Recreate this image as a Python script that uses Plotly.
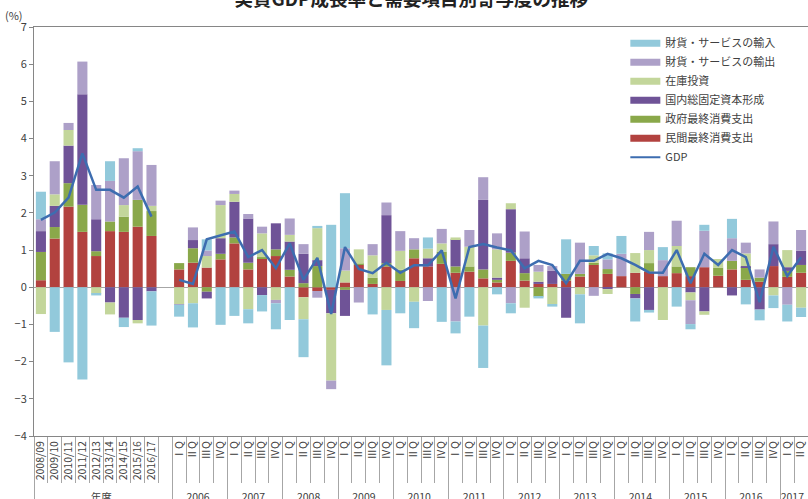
import plotly.graph_objects as go

# Category axis: fiscal years, a spacer, then quarters 2006 Q1 - 2017 Q2
annual_labels = ["2008/09", "2009/10", "2010/11", "2011/12", "2012/13",
                 "2013/14", "2014/15", "2015/16", "2016/17"]
quarter_labels = ["ⅠQ", "ⅡQ", "ⅢQ", "ⅣQ"]
years = [str(y) for y in range(2006, 2018)]
n_quarters = 46

groups = ["年度"] * (len(annual_labels) + 1)
cats = annual_labels + [" "]
for k in range(n_quarters):
    groups.append(years[k // 4])
    cats.append(quarter_labels[k % 4])

# Contributions (percentage points); None marks the spacer column
private_cons = [0.19, 1.31, 2.17, 1.49, 0.84, 1.51, 1.49, 1.63, 1.38, None,
                0.48, 0.66, 0.53, 0.75, 1.18, 0.48, 0.78, 0.84, 0.29, -0.27,
                -0.10, -0.07, 0.13, 0.60, 0.09, 0.56, 0.17, 0.78, 0.56, 0.63,
                0.39, 0.42, 0.24, 0.13, 0.71, 0.18, 0.09, 0.09, 0.18, 0.29,
                0.60, 0.36, 0.30, 0.39, 0.42, 0.30, 0.38, 0.30, 0.54, 0.31,
                0.48, 0.20, 0.15, 0.57, 0.28, 0.39]
gov_cons = [0.76, 0.31, 0.63, 0.73, 0.13, 0.26, 0.41, 0.72, 0.67, None,
            0.17, 0.39, -0.12, 0.15, 0.16, 0.18, 0.03, 0.18, 0.18, 0.11,
            0.57, 0.00, -0.07, 0.03, 0.17, 0.09, 0.30, 0.24, 0.00, 0.33,
            0.17, 0.14, 0.24, 0.07, 0.22, 0.20, -0.25, 0.00, 0.18, 0.07,
            0.06, 0.13, 0.00, -0.18, 0.23, 0.00, 0.18, 0.24, 0.00, 0.22,
            0.23, 0.34, 0.11, 0.00, 0.16, 0.21]
gfcf = [0.56, 0.57, 1.01, 2.97, 0.86, -0.41, -0.82, -0.88, -0.11, None,
        0.00, 0.22, -0.18, 0.42, 0.96, 1.19, -0.21, 0.70, 0.76, 0.79,
        0.16, -0.63, -0.70, 0.00, 0.00, 1.29, 0.00, 0.00, 0.22, 0.00,
        0.73, 0.00, 1.87, 0.06, 1.17, 0.40, 0.06, 0.36, -0.82, 0.00,
        0.00, -0.05, 0.00, -0.12, -0.61, 0.00, 0.00, -0.14, -0.65, 0.00,
        -0.22, 0.03, -0.60, 0.59, 0.10, 0.38]
inventory = [-0.72, 0.31, 0.42, 0.00, -0.17, -0.32, 0.31, -0.09, 0.14, None,
             -0.45, -0.43, 0.31, 0.89, 0.21, -0.59, 0.64, -0.34, 0.18, -0.59,
             0.86, -1.81, 0.32, 0.39, 0.60, -0.61, 0.51, -0.39, 0.26, 0.22,
             0.05, 0.53, -1.03, 0.76, 0.16, -0.55, 0.27, -0.45, 0.00, -0.19,
             0.20, -0.13, 0.00, 0.53, 0.35, -0.88, 0.55, -0.21, -0.09, 0.23,
             0.00, 0.34, 0.00, -0.22, 0.46, -0.55]
exports = [0.32, 0.89, 0.19, 0.88, 0.92, 1.09, 1.26, 1.31, 1.10, None,
           -0.02, 0.34, 0.15, 0.12, 0.09, 0.12, 0.18, -0.09, 0.44, 0.26,
           -0.18, -0.23, 0.60, -0.41, 0.30, 0.34, 0.53, 0.30, -0.37, 0.39,
           -0.92, 0.45, 0.61, 0.43, -0.43, 0.72, 0.18, 0.12, 0.00, 0.84,
           -0.23, 0.26, 0.60, 0.00, 0.49, 0.43, 0.68, -0.64, 0.98, 0.00,
           0.61, 0.29, 0.22, 0.61, -0.47, 0.56]
imports = [0.74, -1.20, -2.02, -2.48, -0.05, 0.53, -0.25, 0.08, -0.92, None,
           -0.32, -0.65, 0.30, -1.01, -0.77, -0.38, -0.44, -0.70, -0.88, -1.02,
           0.06, 1.68, 1.48, 0.00, -0.73, -1.49, -0.70, -0.71, 0.30, -0.93,
           -0.32, -0.79, -1.14, -0.19, -0.27, 0.00, -0.05, -0.07, 0.93, -0.78,
           0.25, 0.16, 0.48, -0.62, -0.07, 0.35, -0.52, -0.14, 0.16, 0.00,
           0.52, -0.46, -0.29, -0.34, -0.45, -0.25]
gdp = [1.81, 2.01, 2.41, 3.60, 2.62, 2.62, 2.41, 2.71, 1.90, None,
       0.20, 0.09, 1.29, 1.40, 1.50, 0.81, 1.00, 0.51, 1.18, 0.20,
       0.79, -0.72, 1.08, 0.49, 0.38, 0.66, 0.39, 0.59, 0.59, 0.99,
       -0.30, 1.08, 1.16, 1.07, 0.99, 0.51, 0.71, 0.60, 0.11, 0.71,
       0.71, 0.90, 0.78, 0.60, 0.40, 0.39, 1.00, 0.11, 0.90, 0.60,
       1.00, 0.81, -0.40, 1.09, 0.30, 0.81]

# Stacking order from the baseline outwards; legend lists them top-down
series = [
    ("民間最終消費支出", private_cons, "#B2423F"),
    ("政府最終消費支出", gov_cons, "#8AA84A"),
    ("国内総固定資本形成", gfcf, "#6F5397"),
    ("在庫投資", inventory, "#C3D69B"),
    ("財貨・サービスの輸出", exports, "#ADA0C8"),
    ("財貨・サービスの輸入", imports, "#92C9DB"),
]

FONT = "Noto Sans CJK JP"
TXT = "#404040"
x = [groups, cats]

fig = go.Figure()
for name, vals, color in series:
    fig.add_trace(go.Bar(x=x, y=vals, name=name, marker_color=color,
                         marker_line_width=0, showlegend=False))

fig.add_trace(go.Scatter(x=x, y=gdp, name="GDP", mode="lines",
                         line=dict(color="#3D6DB0", width=2.5),
                         showlegend=False))

# Legend keys drawn as short thick strokes
for rank, (name, _, color) in enumerate(reversed(series), start=1):
    fig.add_trace(go.Scatter(x=[[groups[0]], [cats[0]]], y=[None], name=name,
                             mode="lines", line=dict(color=color, width=7),
                             legendrank=rank, hoverinfo="skip"))
fig.add_trace(go.Scatter(x=[[groups[0]], [cats[0]]], y=[None], name="GDP",
                         mode="lines", line=dict(color="#3D6DB0", width=2),
                         legendrank=7, hoverinfo="skip"))

fig.update_layout(
    width=808, height=499,
    margin=dict(l=34, r=0, t=27, b=63, autoexpand=False),
    paper_bgcolor="white", plot_bgcolor="white",
    barmode="relative", bargap=0.27,
    font=dict(family=FONT, size=11, color=TXT),
    title=dict(text="<b>実質GDP成長率と需要項目別寄与度の推移</b>",
               font=dict(family=FONT, size=18.5, color="#222222"),
               x=0.509, xref="container", xanchor="center",
               y=1.0, yref="container", yanchor="middle"),
    legend=dict(x=0.764, y=0.996, xanchor="left", yanchor="top",
                bgcolor="rgba(0,0,0,0)", font=dict(size=11, color=TXT),
                itemwidth=30, tracegroupgap=0),
    annotations=[dict(text="(%)", xref="paper", yref="paper", x=0, y=1,
                      xanchor="right", yanchor="bottom", xshift=-9, yshift=2,
                      showarrow=False, font=dict(size=11, color=TXT))],
)

fig.update_xaxes(
    type="multicategory", showline=True, linecolor="#868686", linewidth=1,
    mirror=True, ticks="outside", ticklen=46, tickcolor="#A6A6A6",
    tickangle=-90, tickfont=dict(size=10.5, color=TXT),
    showdividers=True, dividercolor="#A6A6A6", dividerwidth=1,
    showgrid=False, automargin=False,
)
fig.update_yaxes(
    range=[-4, 7], dtick=1, showline=True, linecolor="#868686", linewidth=1,
    ticks="outside", ticklen=4, tickcolor="#868686",
    tickfont=dict(size=11, color=TXT), showgrid=False,
    zeroline=True, zerolinecolor="#A6A6A6", zerolinewidth=1,
    automargin=False,
)

fig.write_html("out.html")
